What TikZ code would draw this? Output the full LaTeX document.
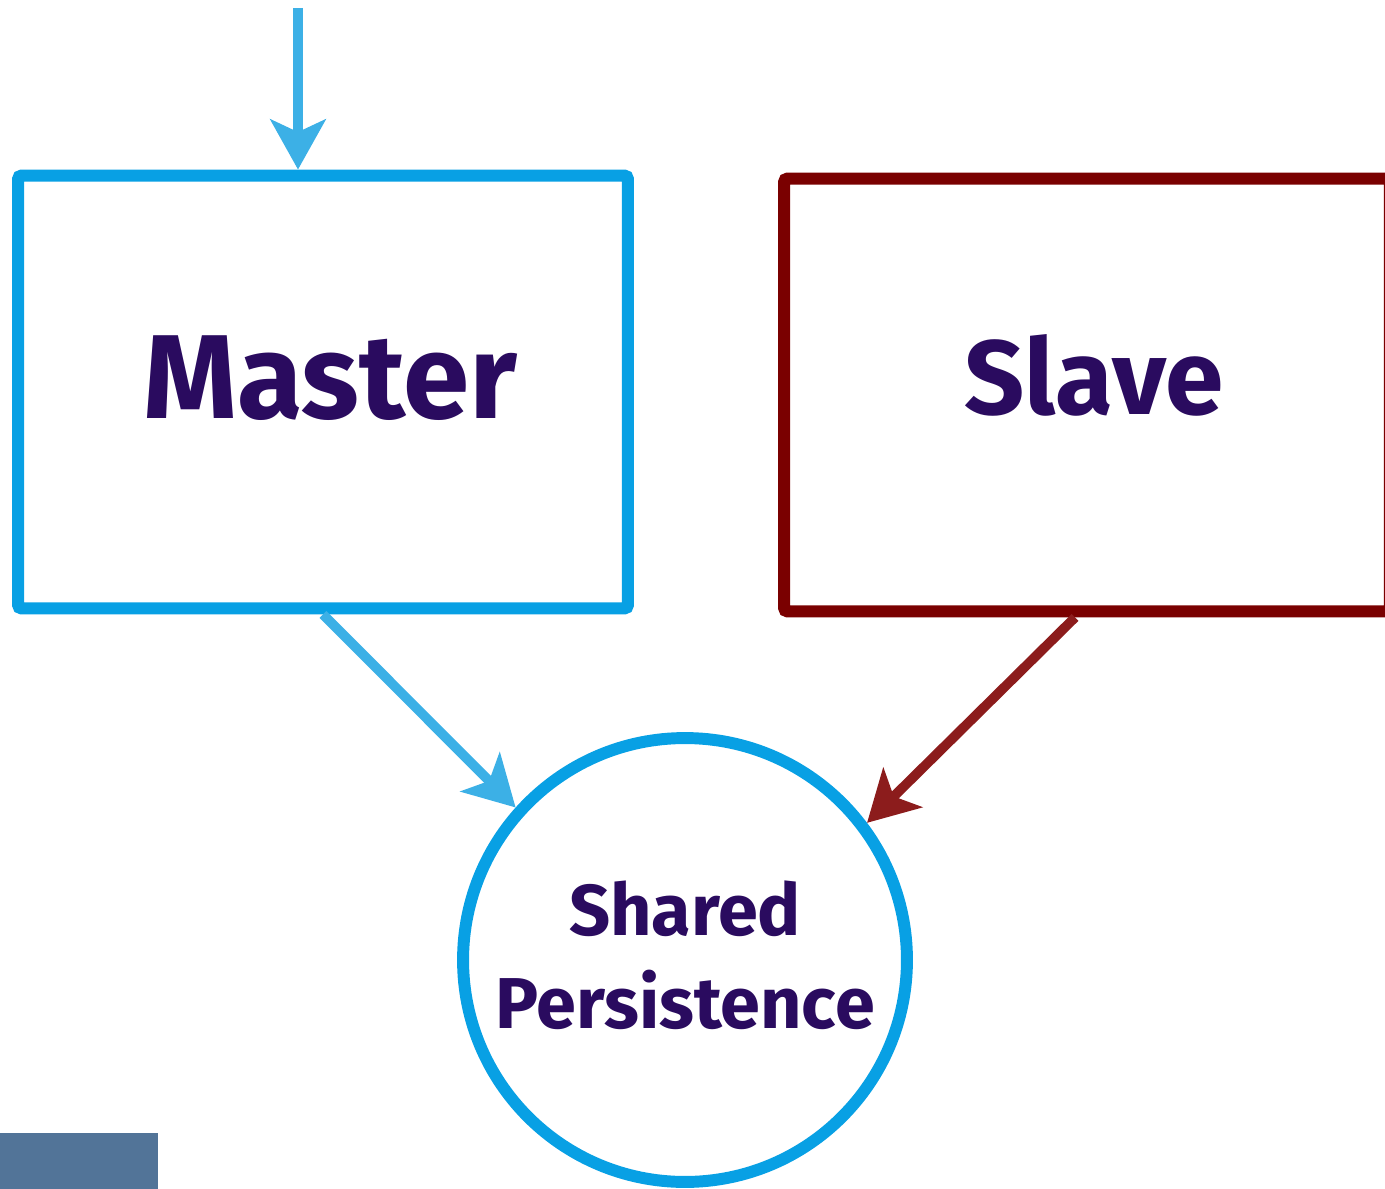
\documentclass[tikz,border=0pt]{standalone}
\usepackage{fontspec}
\setmainfont{Fira Sans}
\usetikzlibrary{arrows.meta}

\definecolor{masterblue}{RGB}{8,160,228}
\definecolor{arrowblue}{RGB}{60,176,230}
\definecolor{slavered}{RGB}{122,0,0}
\definecolor{arrowred}{RGB}{140,28,28}
\definecolor{inkpurple}{RGB}{42,11,95}
\definecolor{slate}{RGB}{82,116,152}

\begin{document}
\begin{tikzpicture}[x=0.02cm,y=-0.02cm]
			\useasboundingbox (0,0) rectangle (1385,1189);
			\begin{scope}[every node/.style={draw,line width=6.8pt,rounded corners=2pt}]
				\node[masterblue,minimum width=12.2cm,minimum height=8.66cm] (master) at (323,392) {};
				\node[slavered,minimum width=12.12cm,minimum height=8.66cm] (slave) at (1087,395) {};
				\node[masterblue,circle,minimum size=8.88cm] (persist) at (685,960) {};
			\end{scope}
			
			\begin{scope}[every node/.style={text=inkpurple,align=center}]
				\node[font=\bfseries\fontsize{68}{80}\selectfont] (mastertext) at (330,378) {Master};
				\node[font=\bfseries\fontsize{60}{80}\selectfont] (slavetext) at (1094,375) {Slave};
				\node[font=\bfseries\fontsize{41}{53}\selectfont] (persisttext) at (685,955) {Shared\\Persistence};
			\end{scope}
			
			\coordinate (input) at (298,8);
			\begin{scope}[line width=5.5pt,-{Stealth[length=1cm,width=1.1cm,inset=0.25cm]}]
				\draw[arrowblue] (input) -- (input |- master.north);
				\draw[arrowblue] (master.south) -- (persist.138);
				\draw[arrowred] ([xshift=-0.24cm]slave.south) -- (persist.37);
			\end{scope}
			
			\fill[slate] (0,1133) rectangle (158,1189);
		\end{tikzpicture}
\end{document}
